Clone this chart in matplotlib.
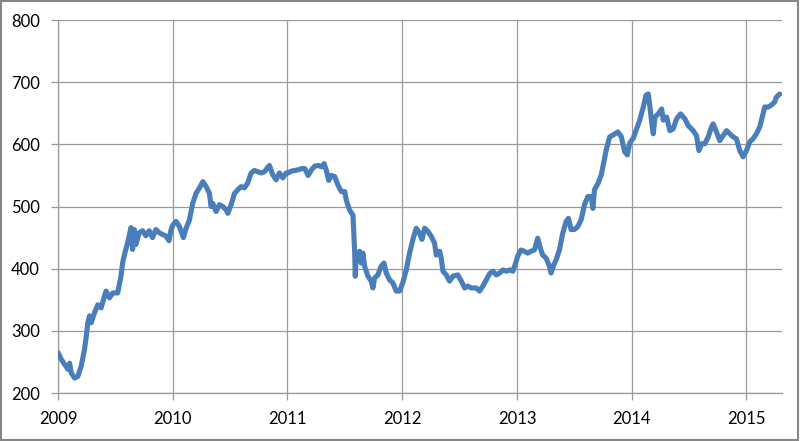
import matplotlib
matplotlib.use("Agg")
import matplotlib.pyplot as plt
from matplotlib.patches import Rectangle

years = [
    2009.000, 2009.029, 2009.058, 2009.087, 2009.101, 2009.116, 2009.145, 2009.173, 2009.202, 2009.231,
    2009.246, 2009.260, 2009.275, 2009.289, 2009.318, 2009.347, 2009.376, 2009.405, 2009.419, 2009.448,
    2009.477, 2009.520, 2009.549, 2009.564, 2009.584, 2009.607, 2009.621, 2009.636, 2009.650, 2009.665,
    2009.679, 2009.708, 2009.737, 2009.766, 2009.795, 2009.824, 2009.853, 2009.882, 2009.910, 2009.939,
    2009.968, 2009.983,
    2010.000, 2010.029, 2010.058, 2010.093, 2010.116, 2010.145, 2010.174, 2010.203, 2010.233, 2010.262,
    2010.291, 2010.320, 2010.334, 2010.349, 2010.378, 2010.407, 2010.436, 2010.465, 2010.480, 2010.509,
    2010.538, 2010.567, 2010.596, 2010.625, 2010.654, 2010.683, 2010.712, 2010.741, 2010.770, 2010.799,
    2010.828, 2010.843, 2010.872, 2010.901, 2010.930, 2010.959, 2010.988,
    2011.006, 2011.035, 2011.064, 2011.093, 2011.122, 2011.151, 2011.180, 2011.209, 2011.238, 2011.267,
    2011.296, 2011.319, 2011.339, 2011.359, 2011.383, 2011.412, 2011.441, 2011.470, 2011.499, 2011.513,
    2011.542, 2011.571, 2011.577, 2011.586, 2011.591, 2011.600, 2011.614, 2011.629, 2011.643, 2011.658,
    2011.672, 2011.701, 2011.730, 2011.745, 2011.759, 2011.788, 2011.817, 2011.841, 2011.861, 2011.890,
    2011.919, 2011.948, 2011.977,
    2012.006, 2012.035, 2012.064, 2012.093, 2012.122, 2012.151, 2012.172, 2012.195, 2012.224, 2012.253,
    2012.282, 2012.297, 2012.326, 2012.340, 2012.355, 2012.384, 2012.413, 2012.442, 2012.485, 2012.515,
    2012.544, 2012.573, 2012.602, 2012.645, 2012.674, 2012.703, 2012.733, 2012.762, 2012.791, 2012.820,
    2012.849, 2012.878, 2012.907, 2012.936, 2012.965, 2012.994,
    2013.006, 2013.035, 2013.064, 2013.093, 2013.122, 2013.152, 2013.181, 2013.204, 2013.224, 2013.254,
    2013.283, 2013.297, 2013.321, 2013.341, 2013.370, 2013.399, 2013.429, 2013.449, 2013.472, 2013.501,
    2013.531, 2013.560, 2013.589, 2013.618, 2013.647, 2013.662, 2013.676, 2013.706, 2013.735, 2013.749,
    2013.778, 2013.808, 2013.837, 2013.880, 2013.910, 2013.939, 2013.962, 2013.983,
    2014.014, 2014.043, 2014.072, 2014.101, 2014.125, 2014.145, 2014.159, 2014.174, 2014.188, 2014.203,
    2014.232, 2014.261, 2014.275, 2014.304, 2014.333, 2014.362, 2014.391, 2014.426, 2014.464, 2014.493,
    2014.536, 2014.565, 2014.586, 2014.609, 2014.638, 2014.667, 2014.696, 2014.710, 2014.739, 2014.768,
    2014.797, 2014.826, 2014.855, 2014.884, 2014.913, 2014.942, 2014.971, 2015.000, 2015.029, 2015.058,
    2015.087, 2015.116, 2015.145, 2015.159, 2015.188, 2015.217, 2015.246, 2015.261, 2015.290,
]

values = [
    265, 254, 246, 238, 248, 232, 224, 227, 243, 270,
    291, 313, 324, 313, 329, 342, 337, 356, 364, 353,
    361, 361, 388, 410, 426, 442, 453, 466, 431, 463,
    439, 458, 461, 453, 461, 450, 463, 458, 455, 453,
    445, 461,
    470, 476, 468, 450, 465, 478, 505, 521, 530, 540,
    532, 521, 500, 505, 492, 503, 500, 495, 489, 503,
    521, 527, 532, 530, 538, 554, 558, 556, 554, 556,
    563, 566, 551, 543, 554, 546, 554,
    554, 557, 558, 559, 561, 561, 550, 559, 565, 566,
    564, 569, 558, 542, 550, 548, 534, 524, 524, 510,
    494, 486, 462, 425, 388, 425, 414, 428, 409, 425,
    404, 388, 380, 369, 385, 390, 404, 409, 393, 382,
    377, 364, 364,
    378, 398, 425, 447, 465, 457, 447, 465, 460, 452,
    441, 422, 428, 417, 396, 390, 380, 388, 390, 380,
    369, 372, 369, 369, 364, 372, 382, 392, 396, 390,
    393, 398, 396, 398, 396, 412,
    420, 430, 428, 425, 428, 430, 449, 433, 422, 417,
    404, 393, 406, 414, 430, 457, 476, 481, 463, 463,
    468, 479, 503, 516, 516, 497, 527, 537, 551, 564,
    591, 612, 615, 620, 612, 588, 583, 602,
    610, 625, 640, 660, 679, 681, 660, 636, 617, 644,
    649, 657, 639, 644, 622, 625, 641, 649, 641, 630,
    622, 614, 590, 601, 601, 612, 628, 633, 620, 606,
    614, 622, 617, 612, 609, 590, 580, 590, 604, 609,
    617, 628, 649, 660, 660, 663, 668, 676, 681,
]

x_ticks = [2009, 2010, 2011, 2012, 2013, 2014, 2015]
x_labels = ["2009", "2010", "2011", "2012", "2013", "2014", "2015"]
y_ticks = [200, 300, 400, 500, 600, 700, 800]
y_labels = ["200", "300", "400", "500", "600", "700", "800"]

plt.rcParams['font.family'] = ['Lato', 'DejaVu Sans']

fig = plt.figure(figsize=(8.0, 4.41), dpi=100)
ax = fig.add_axes([0.0725, 0.1088, 0.905, 0.8458])

grid_c = '#9a9a9a'
ax.plot(years, values, color='#4a7ebb', lw=3.7, solid_joinstyle='round', solid_capstyle='round', zorder=3)

ax.set_xlim(2009, 2015.31)
ax.set_ylim(200, 800)
ax.set_xticks(x_ticks)
ax.set_xticklabels(x_labels)
ax.set_yticks(y_ticks)
ax.set_yticklabels(y_labels)
ax.grid(True, color=grid_c, lw=0.9, zorder=0)
ax.set_axisbelow(True)
for s in ['top', 'right']:
    ax.spines[s].set_visible(False)
for s in ['left', 'bottom']:
    ax.spines[s].set_color(grid_c)
    ax.spines[s].set_linewidth(0.9)
ax.tick_params(axis='both', colors=grid_c, labelcolor='#000000', labelsize=12, length=5, width=0.9)
ax.tick_params(axis='y', pad=8)
ax.tick_params(axis='x', pad=8)

fig.patches.append(Rectangle((0.001, 0.002), 0.997, 0.995, transform=fig.transFigure,
                             fill=False, edgecolor='#868686', lw=1.5))

fig.savefig('out.png', dpi=100)
